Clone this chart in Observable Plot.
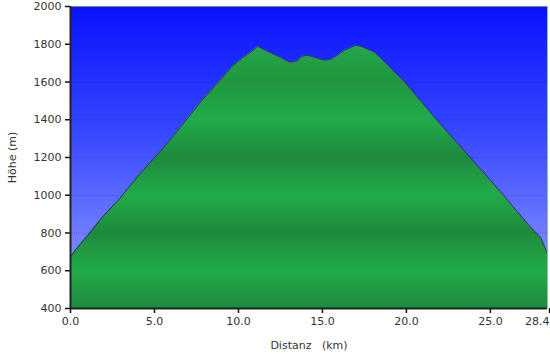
<!DOCTYPE html>
<html>
<head>
<meta charset="utf-8">
<script src="https://cdn.jsdelivr.net/npm/d3@7"></script>
<script src="https://cdn.jsdelivr.net/npm/@observablehq/plot@0.6"></script>
<style>
  html, body { margin: 0; padding: 0; background: #fff; }
</style>
</head>
<body>
<div id="chart"></div>
<script>
const distanceKm = [0.0, 0.5, 1.1, 1.85, 2.9, 3.9, 4.9, 5.85, 6.8, 7.75, 8.8, 9.7, 10.3, 10.75, 11.15, 11.5, 12.1, 12.5, 12.8, 13.1, 13.5, 13.8, 14.1, 14.5, 14.9, 15.2, 15.5, 15.9, 16.3, 16.7, 17.0, 17.3, 17.7, 18.1, 18.5, 18.9, 19.9, 20.9, 21.9, 22.85, 23.85, 24.3, 25.3, 26.3, 27.3, 28.0, 28.4];
const elevationM = [675, 732, 795, 879, 979, 1089, 1189, 1284, 1389, 1495, 1600, 1689, 1732, 1760, 1789, 1774, 1747, 1732, 1716, 1705, 1712, 1737, 1742, 1732, 1721, 1716, 1721, 1742, 1768, 1784, 1795, 1789, 1774, 1758, 1725, 1689, 1600, 1495, 1389, 1295, 1195, 1150, 1050, 945, 840, 775, 690];
const xTicks = [0, 5, 10, 15, 20, 25];
const xEndTick = [28.4];
const yTicks = [400, 600, 800, 1000, 1200, 1400, 1600, 1800, 2000];

const profile = distanceKm.map((d, i) => ({d, h: elevationM[i]}));

const chart = Plot.plot({
  width: 550,
  height: 355,
  marginLeft: 70,
  marginRight: 3,
  marginTop: 6,
  marginBottom: 47,
  style: {fontFamily: "'DejaVu Sans', Verdana, sans-serif", fontSize: "11px", color: "#333", background: "#fff"},
  x: {domain: [0, 28.4]},
  y: {domain: [400, 2000]},
  marks: [
    Plot.frame({fill: "url(#sky)", stroke: null}),
    Plot.gridY(yTicks, {stroke: "#102070", strokeOpacity: 0.25, strokeDasharray: "1,1"}),
    Plot.areaY(profile, {x: "d", y: "h", y1: 400, fill: "url(#ground)", curve: "linear"}),
    Plot.lineY(profile, {x: "d", y: "h", stroke: "#263848", strokeWidth: 1}),
    Plot.ruleX(xEndTick, {stroke: "#8fbf9a", strokeWidth: 1}),
    Plot.axisX(xTicks, {tickSize: 5, tickFormat: d => d.toFixed(1), stroke: "#111", strokeWidth: 1.5,
      label: "Distanz   (km)", labelAnchor: "center", labelArrow: "none", labelOffset: 40}),
    Plot.axisX(xEndTick, {tickSize: 5, tickFormat: d => d.toFixed(1), textAnchor: "end", dx: 2, stroke: "#111", strokeWidth: 1.5, label: null}),
    Plot.axisY(yTicks, {tickSize: 5, tickFormat: d => String(d), stroke: "#111", strokeWidth: 1.5,
      label: "Höhe (m)", labelAnchor: "center", labelArrow: "none", labelOffset: 62}),
    Plot.ruleX([0], {stroke: "#222", strokeWidth: 2}),
    Plot.ruleY([400], {stroke: "#222", strokeWidth: 2})
  ]
});

const y = chart.scale("y");
const svg = d3.select(chart);
const defs = svg.insert("defs", ":first-child");
const sky = defs.append("linearGradient").attr("id", "sky")
  .attr("x1", 0).attr("y1", 0).attr("x2", 0).attr("y2", 1);
sky.append("stop").attr("offset", "0%").attr("stop-color", "#0812ff");
sky.append("stop").attr("offset", "40%").attr("stop-color", "#3446ff");
sky.append("stop").attr("offset", "100%").attr("stop-color", "#98a2ff");

const ground = defs.append("linearGradient").attr("id", "ground")
  .attr("gradientUnits", "userSpaceOnUse")
  .attr("x1", 0).attr("x2", 0)
  .attr("y1", y.apply(2000)).attr("y2", y.apply(400));
const bandStops = [
  [2000, "#22a548"], [1800, "#24a848"], [1600, "#1f963f"], [1400, "#22ab4a"],
  [1200, "#1e8a3c"], [1000, "#22ab4a"], [800, "#1e8a3c"], [600, "#22ab4a"], [400, "#1e8a3c"]
];
bandStops.forEach(([h, c]) => {
  ground.append("stop").attr("offset", ((2000 - h) / 1600 * 100) + "%").attr("stop-color", c);
});

document.getElementById("chart").appendChild(chart);
</script>
</body>
</html>
